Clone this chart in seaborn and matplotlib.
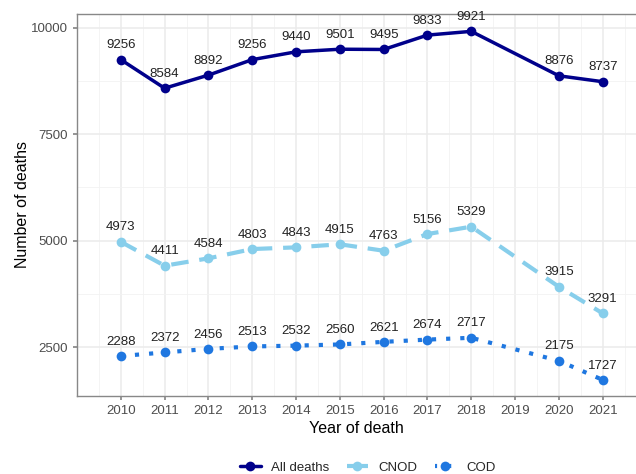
import matplotlib
matplotlib.use("Agg")
import matplotlib.pyplot as plt
from matplotlib.lines import Line2D
import seaborn as sns
import pandas as pd

years = [2010, 2011, 2012, 2013, 2014, 2015, 2016, 2017, 2018, 2020, 2021]
all_deaths = [9256, 8584, 8892, 9256, 9440, 9501, 9495, 9833, 9921, 8876, 8737]
cnod = [4973, 4411, 4584, 4803, 4843, 4915, 4763, 5156, 5329, 3915, 3291]
cod = [2288, 2372, 2456, 2513, 2532, 2560, 2621, 2674, 2717, 2175, 1727]
series_names = ["All deaths", "CNOD", "COD"]
tick_years = list(range(2010, 2022))
y_ticks = [2500, 5000, 7500, 10000]

colors = {"All deaths": "#00008B", "CNOD": "#87CEEB", "COD": "#1F77E0"}
line_styles = {"All deaths": "", "CNOD": (4.2, 2.6), "COD": (1.0, 2.4)}
widths = {"All deaths": 2.5, "CNOD": 3.0, "COD": 3.0}

df = pd.DataFrame({
    "year": years * 3,
    "deaths": all_deaths + cnod + cod,
    "series": sum([[n] * len(years) for n in series_names], []),
})

sns.set_theme(style="whitegrid")
plt.rcParams["font.family"] = ["Liberation Sans", "DejaVu Sans"]

fig = plt.figure(figsize=(6.36, 4.74), dpi=100)
ax = fig.add_axes([77 / 636, 78 / 474, 1 - 77 / 636, (396 - 14) / 474])

for name in series_names:
    sub = df[df["series"] == name]
    sns.lineplot(data=sub, x="year", y="deaths", ax=ax, color=colors[name],
                 linewidth=widths[name], marker="o", markersize=7,
                 markeredgewidth=0, legend=False)
    line = ax.lines[-1]
    if line_styles[name]:
        line.set_dashes(line_styles[name])
        line.set_dash_capstyle("butt")
    for x, y in zip(sub["year"], sub["deaths"]):
        ax.annotate(f"{y}", (x, y), xytext=(0, 6), textcoords="offset points",
                    ha="center", va="bottom", fontsize=9.5, color="#222222")

ax.set_xlim(2009.0, 2021.76)
ax.set_ylim(1348, 10329)
ax.set_xticks(tick_years)
ax.set_xticks([y + 0.5 for y in range(2009, 2022)], minor=True)
ax.set_yticks(y_ticks)
ax.set_yticks([3750, 6250, 8750], minor=True)
ax.grid(True, which="major", color="#EBEBEB", linewidth=1.1)
ax.grid(True, which="minor", color="#F2F2F2", linewidth=0.6)
ax.set_axisbelow(True)
for side in ["left", "bottom", "top"]:
    ax.spines[side].set_color("#888888")
    ax.spines[side].set_linewidth(1.0)
ax.spines["right"].set_visible(False)
ax.tick_params(axis="both", which="major", labelsize=9.5, labelcolor="#4D4D4D",
               length=3, color="#888888", bottom=True, left=True)
ax.tick_params(axis="both", which="minor", length=0)
ax.set_xlabel("Year of death", fontsize=11.5, color="black", labelpad=3)
ax.set_ylabel("Number of deaths", fontsize=11.5, color="black", labelpad=1)

handles = []
for name in series_names:
    h = Line2D([0], [0], color=colors[name], linewidth=widths[name],
               marker="o", markersize=7, markeredgewidth=0)
    if line_styles[name]:
        h.set_dashes((line_styles[name][0] * 0.5, line_styles[name][1] * 0.5))
    handles.append(h)
fig.legend(handles, series_names, loc="center", bbox_to_anchor=(0.578, 0.013),
           ncol=3, frameon=False, fontsize=9.5, handlelength=1.6,
           columnspacing=1.3, handletextpad=0.8)

fig.savefig("out.png", dpi=100)
